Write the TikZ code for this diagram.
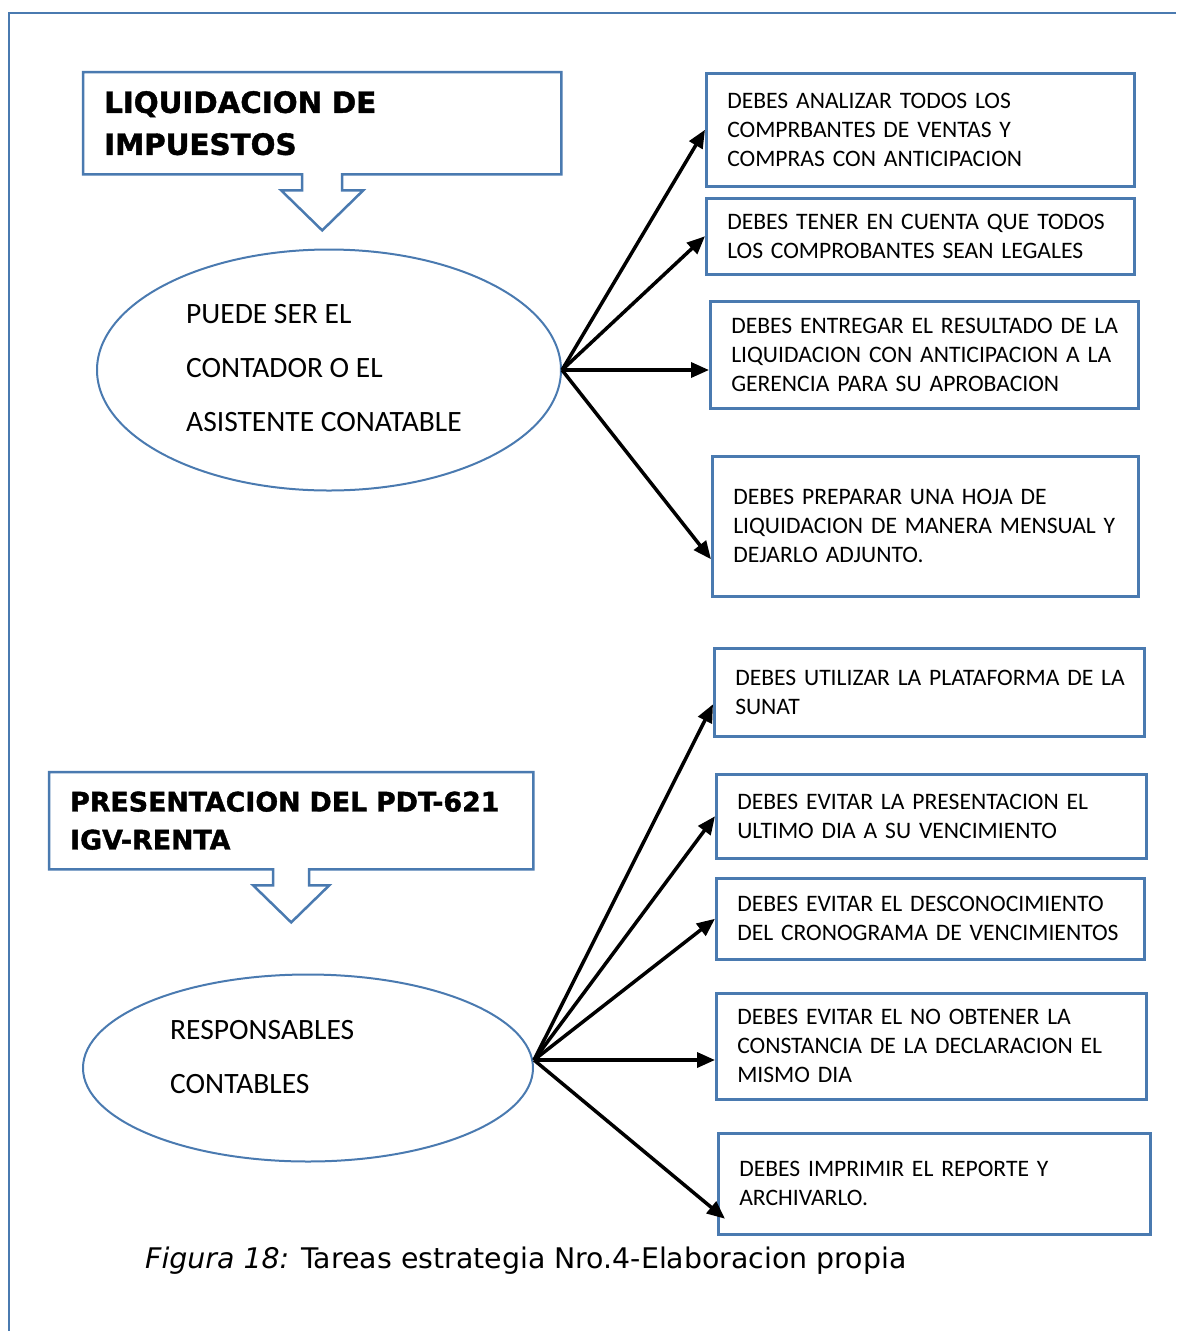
\documentclass[tikz,border=0pt]{standalone}
\usepackage{fontspec}
\setmainfont{Carlito}
\newfontfamily\headfont{DejaVu Sans}[BoldFeatures={FakeBold=1.5}]
\usetikzlibrary{shapes.geometric,arrows.meta}
\definecolor{boxblue}{RGB}{74,122,176}
\tikzset{
  taskbox/.style={draw=boxblue, line width=2.5pt, anchor=north west, inner xsep=21pt, inner ysep=0pt, align=left, font=\fontsize{23.6}{29}\selectfont},
  titlebox/.style={anchor=north west, inner xsep=21pt, inner ysep=0pt, align=left},
  callout/.style={draw=boxblue, line width=2.5pt, line join=miter},
  oval/.style={draw=boxblue, line width=2pt, ellipse},
  ovaltext/.style={anchor=west, inner sep=0pt, align=left, font=\fontsize{29.5}{54}\selectfont},
  conn/.style={line width=3.5pt, -{Triangle[length=18pt,width=15pt]}},
}

\begin{document}
\begin{tikzpicture}[x=1pt,y=-1pt]
\useasboundingbox (0,0) rectangle (1176,1331);
\draw[boxblue, line width=2.5pt] (1176,13) -- (9,13) -- (9,1331);

% liquidacion
\node[titlebox, text width=436pt, minimum height=102pt, font=\headfont\bfseries\fontsize{29.3}{42}\selectfont] (liq) at (83,72) {LIQUIDACION DE\\IMPUESTOS};
\draw[callout] (liq.south east) -- (liq.north east) -- (liq.north west) -- (liq.south west) -- ([xshift=-20pt]liq.south) -- ++(0,16) -- ++(-21,0) -- ++(41,40) -- ++(41,-40) -- ++(-21,0) -- ++(0,-16) -- cycle;

\node[oval, minimum width=464pt, minimum height=241pt] (cont) at (329,370) {};
\node[ovaltext] (conttext) at (186,368) {PUEDE SER EL\\CONTADOR O EL\\ASISTENTE CONATABLE};

\node[taskbox, text width=386pt, minimum height=113pt] (analizar) at (705,72) {DEBES ANALIZAR TODOS LOS\\COMPRBANTES DE VENTAS Y\\COMPRAS CON ANTICIPACION};
\node[taskbox, text width=386pt, minimum height=76pt] (legales) at (705,197) {\mbox{DEBES TENER EN CUENTA QUE TODOS}\\LOS COMPROBANTES SEAN LEGALES};
\node[taskbox, text width=386pt, minimum height=107pt] (entregar) at (709,300) {\mbox{DEBES ENTREGAR EL RESULTADO DE LA}\\\mbox{LIQUIDACION CON ANTICIPACION A LA}\\GERENCIA PARA SU APROBACION};
\node[taskbox, text width=384pt, minimum height=140pt] (hoja) at (711,455) {DEBES PREPARAR UNA HOJA DE\\\mbox{LIQUIDACION DE MANERA MENSUAL Y}\\DEJARLO ADJUNTO.};

\draw[conn] (cont.east) -- (analizar.west);
\draw[conn] (cont.east) -- (legales.west);
\draw[conn] (cont.east) -- (cont.east -| entregar.west);
\draw[conn] (cont.east) -- ([yshift=-33pt]hoja.west);

% pdt 621
\node[titlebox, text width=442pt, minimum height=97pt, font=\headfont\bfseries\fontsize{26.8}{38}\selectfont] (pdt) at (49,772) {PRESENTACION DEL PDT-621\\IGV-RENTA};
\draw[callout] (pdt.south east) -- (pdt.north east) -- (pdt.north west) -- (pdt.south west) -- ([xshift=-18pt]pdt.south) -- ++(0,16) -- ++(-20,0) -- ++(38,37) -- ++(38,-37) -- ++(-20,0) -- ++(0,-16) -- cycle;

\node[oval, minimum width=450pt, minimum height=187pt] (resp) at (308,1068) {};
\node[ovaltext] (resptext) at (170,1057) {RESPONSABLES\\CONTABLES};

\node[taskbox, text width=388pt, minimum height=88pt] (sunat) at (713,647) {\mbox{DEBES UTILIZAR LA PLATAFORMA DE LA}\\SUNAT};
\node[taskbox, text width=388pt, minimum height=84pt] (ultimo) at (715,773) {DEBES EVITAR LA PRESENTACION EL\\ULTIMO DIA A SU VENCIMIENTO};
\node[taskbox, text width=386pt, minimum height=81pt] (crono) at (715,877) {\mbox{DEBES EVITAR EL DESCONOCIMIENTO}\\\mbox{DEL CRONOGRAMA DE VENCIMIENTOS}};
\node[taskbox, text width=388pt, minimum height=106pt] (constancia) at (715,992) {DEBES EVITAR EL NO OBTENER LA\\\mbox{CONSTANCIA DE LA DECLARACION EL}\\MISMO DIA};
\node[taskbox, text width=390pt, minimum height=101pt] (imprimir) at (717,1132) {DEBES IMPRIMIR EL REPORTE Y\\ARCHIVARLO.};

\coordinate (resp out) at ([yshift=8pt]resp.east);
\draw[conn] (resp out) -- ([yshift=-12pt]sunat.west);
\draw[conn] (resp out) -- (ultimo.west);
\draw[conn] (resp out) -- (crono.west);
\draw[conn] (resp out) -- (resp out -| constancia.west);
\draw[conn] (resp out) -- ([xshift=8pt,yshift=-35pt]imprimir.west);

\node[anchor=west, inner sep=0pt, font=\headfont\fontsize{28.4}{32}\selectfont] (caption) at (145,1261) {\textit{Figura 18:} Tareas estrategia Nro.4-Elaboracion propia};
\end{tikzpicture}
\end{document}
